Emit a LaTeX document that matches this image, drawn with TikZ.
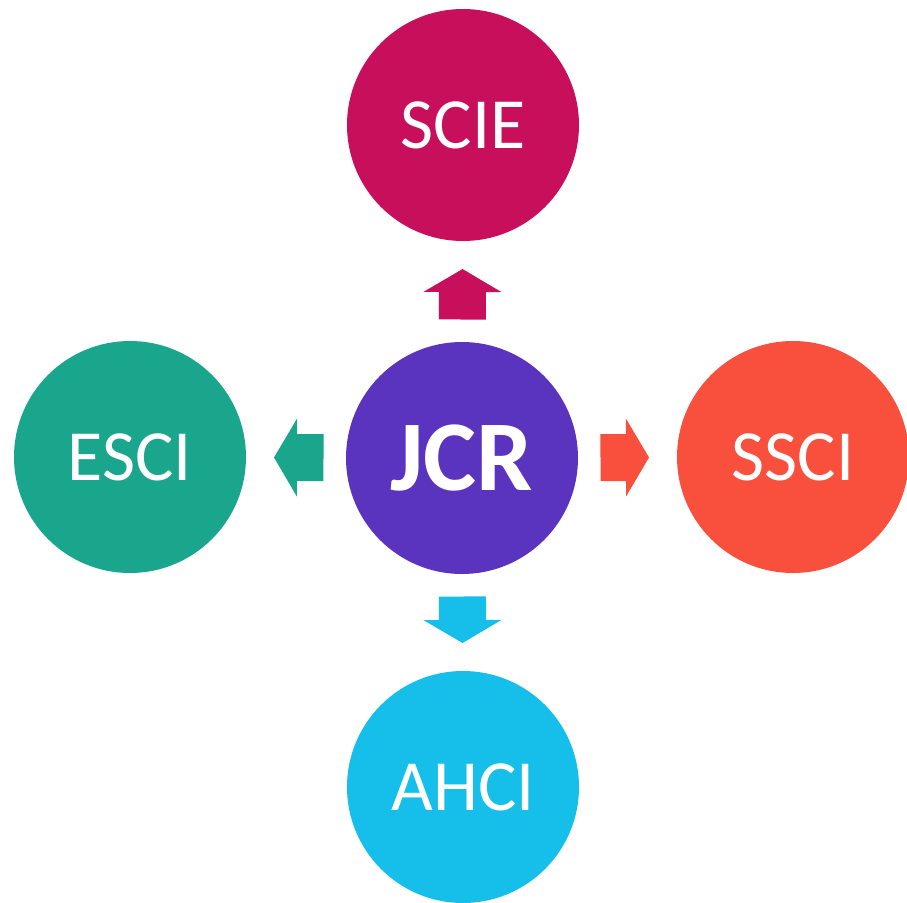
\documentclass[tikz,border=0pt]{standalone}
\usepackage{fontspec}
\setmainfont{Carlito}
\usetikzlibrary{arrows.meta}
\definecolor{jcrpurple}{HTML}{5A33BE}
\definecolor{sciered}{HTML}{C80F5C}
\definecolor{ssciorange}{HTML}{F8503D}
\definecolor{escigreen}{HTML}{1AA68C}
\definecolor{ahciblue}{HTML}{16BEEA}
\newcommand{\circsize}{4.64cm}
\newcommand{\shaftw}{0.94cm}

\begin{document}
\begin{tikzpicture}[x=0.2mm, y=-0.2mm]
                %\draw[help lines] (0,0) grid[step=100] (907,903);
                \tikzset{IndexStyle/.style = {circle, minimum size=\circsize, inner sep=0pt, outer sep=0pt, text=white, font=\fontsize{41}{41}\selectfont}}
                \tikzset{BlockArrow/.style = {line width=\shaftw, -{Triangle[width=1.54cm, length=0.46cm]}, shorten <=0.45cm, shorten >=0.56cm}}
                \useasboundingbox (0,0) rectangle (907,903);
                \node[IndexStyle, fill=jcrpurple, font=\fontsize{57}{57}\selectfont\bfseries] (jcr) at (462,458) {JCR};
                \node[IndexStyle, fill=sciered] (scie) at (463,125) {SCIE};
                \node[IndexStyle, fill=escigreen] (esci) at (130,457) {ESCI};
                \node[IndexStyle, fill=ssciorange] (ssci) at (793,457) {SSCI};
                \node[IndexStyle, fill=ahciblue] (ahci) at (463,787) {AHCI};
                \draw[BlockArrow, sciered] (jcr) -- (scie);
                \draw[BlockArrow, escigreen] (jcr) -- (esci);
                \draw[BlockArrow, ssciorange] (jcr) -- (ssci);
                \draw[BlockArrow, ahciblue] (jcr) -- (ahci);
        \end{tikzpicture}
\end{document}
